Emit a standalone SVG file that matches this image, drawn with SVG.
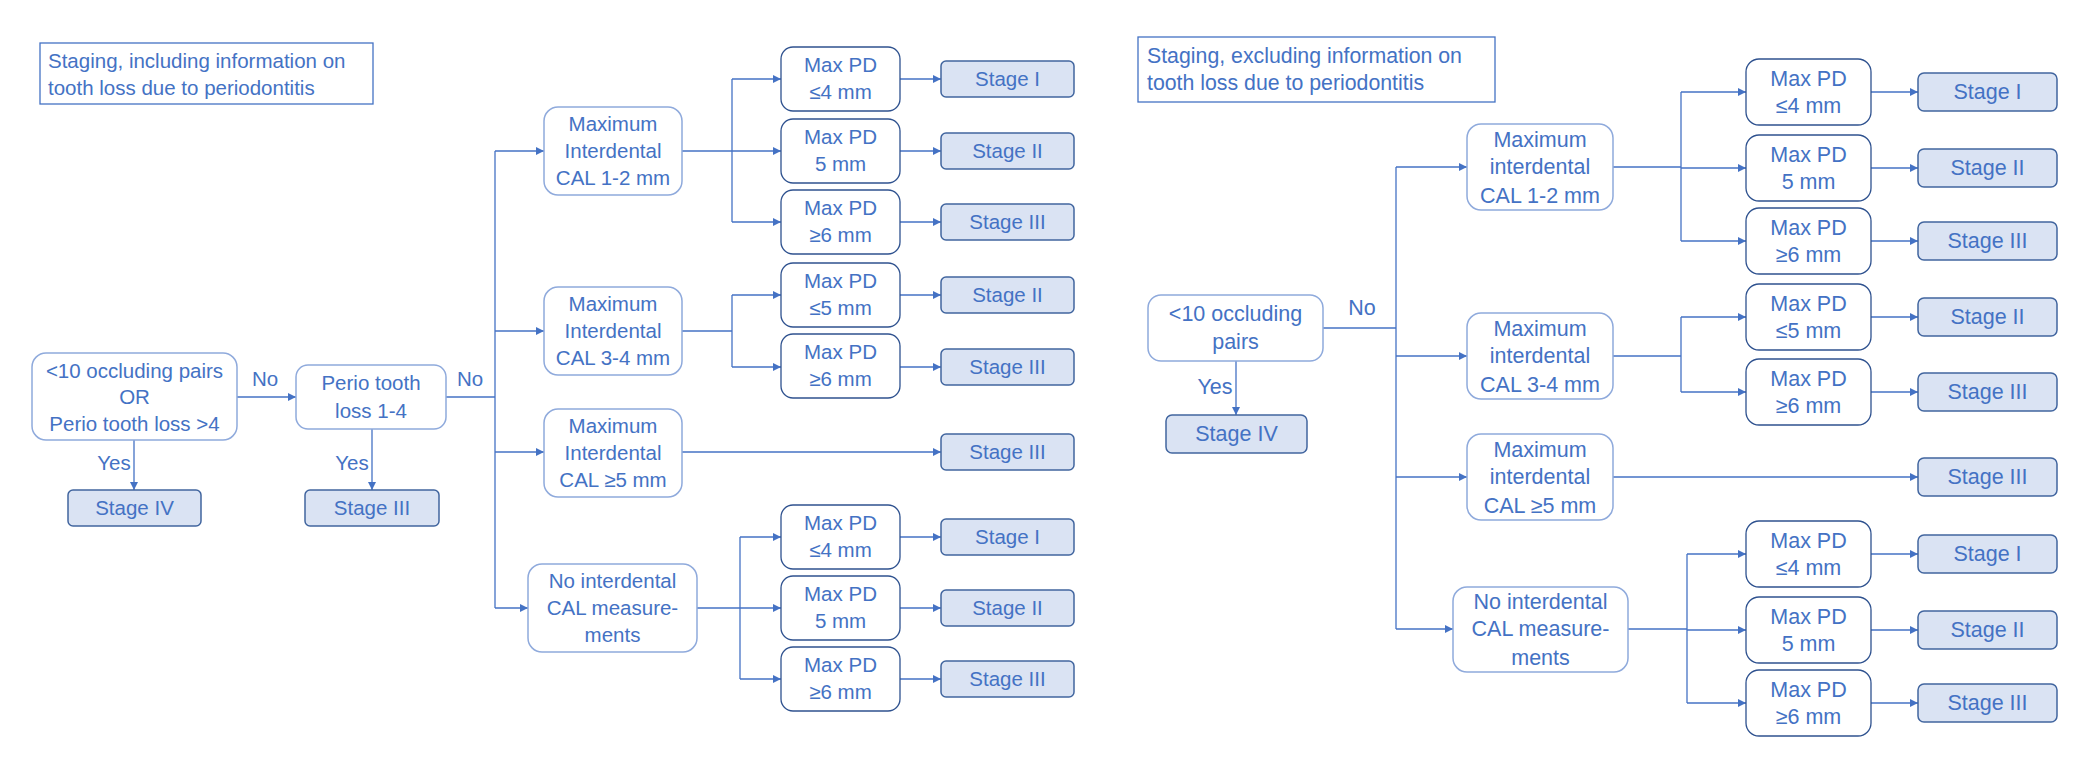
<svg xmlns="http://www.w3.org/2000/svg" width="2082" height="770" viewBox="0 0 2082 770">
<defs>
<marker id="ah" markerUnits="userSpaceOnUse" markerWidth="9" markerHeight="8" refX="8" refY="4" orient="auto">
<path d="M0,0 L8,4 L0,8 Z" fill="#4472C4"/>
</marker>
<style>
text{font-family:"Liberation Sans",Arial,sans-serif;fill:#4472C4;}
.l{font-size:20.5px;text-anchor:middle;}
.r{font-size:21.5px;text-anchor:middle;}
.tl{font-size:20.5px;}
.tr{font-size:21.3px;}
.title{fill:#fff;stroke:#4472C4;stroke-width:1.3;}
.q{fill:#fff;stroke:#8FAADC;stroke-width:1.5;}
.pd{fill:#fff;stroke:#2F528F;stroke-width:1.3;}
.st{fill:#DAE3F3;stroke:#41659F;stroke-width:1.5;}
.c{fill:none;stroke:#4472C4;stroke-width:1.3;}
.a{fill:none;stroke:#4472C4;stroke-width:1.3;marker-end:url(#ah);}
</style>
</defs>
<rect width="2082" height="770" fill="#fff"/>

<!-- LEFT -->
<g id="title-left"><rect class="title" x="40" y="43" width="333" height="61"/>
<text class="tl" x="48" y="68">Staging, including information on</text>
<text class="tl" x="48" y="95">tooth loss due to periodontitis</text></g>

<g id="connectors-left">
<line class="a" x1="237" y1="397" x2="296" y2="397"/>
<line class="a" x1="134" y1="440" x2="134" y2="490"/>
<line class="a" x1="372" y1="429" x2="372" y2="490"/>
<polyline class="c" points="446,397 495,397"/>
<line class="c" x1="495" y1="151" x2="495" y2="608"/>
<line class="a" x1="495" y1="151" x2="544" y2="151"/>
<line class="a" x1="495" y1="331" x2="544" y2="331"/>
<line class="a" x1="495" y1="452" x2="544" y2="452"/>
<line class="a" x1="495" y1="608" x2="528" y2="608"/>
<line class="c" x1="682" y1="151" x2="732" y2="151"/>
<line class="c" x1="732" y1="79" x2="732" y2="222"/>
<line class="a" x1="732" y1="79" x2="781" y2="79"/>
<line class="a" x1="732" y1="151" x2="781" y2="151"/>
<line class="a" x1="732" y1="222" x2="781" y2="222"/>
<line class="c" x1="682" y1="331" x2="732" y2="331"/>
<line class="c" x1="732" y1="295" x2="732" y2="367"/>
<line class="a" x1="732" y1="295" x2="781" y2="295"/>
<line class="a" x1="732" y1="367" x2="781" y2="367"/>
<line class="a" x1="682" y1="452" x2="941" y2="452"/>
<line class="c" x1="697" y1="608" x2="740" y2="608"/>
<line class="c" x1="740" y1="537" x2="740" y2="679"/>
<line class="a" x1="740" y1="537" x2="781" y2="537"/>
<line class="a" x1="740" y1="608" x2="781" y2="608"/>
<line class="a" x1="740" y1="679" x2="781" y2="679"/>
<line class="a" x1="900" y1="79" x2="941" y2="79"/>
<line class="a" x1="900" y1="151" x2="941" y2="151"/>
<line class="a" x1="900" y1="222" x2="941" y2="222"/>
<line class="a" x1="900" y1="295" x2="941" y2="295"/>
<line class="a" x1="900" y1="367" x2="941" y2="367"/>
<line class="a" x1="900" y1="537" x2="941" y2="537"/>
<line class="a" x1="900" y1="608" x2="941" y2="608"/>
<line class="a" x1="900" y1="679" x2="941" y2="679"/>
<text class="l" x="265" y="386">No</text>
<text class="l" x="470" y="386">No</text>
<text class="l" x="114" y="470">Yes</text>
<text class="l" x="352" y="470">Yes</text>
</g>

<g id="L-start"><rect class="q" x="32" y="353" width="205" height="87" rx="14"/>
<text class="l" x="134.5" y="378">&lt;10 occluding pairs</text>
<text class="l" x="134.5" y="404">OR</text>
<text class="l" x="134.5" y="431">Perio tooth loss &gt;4</text></g>
<g id="L-perio"><rect class="q" x="296" y="365" width="150" height="64" rx="12"/>
<text class="l" x="371" y="390">Perio tooth</text>
<text class="l" x="371" y="418">loss 1-4</text></g>
<g id="L-stage4"><rect class="st" x="68" y="490" width="133" height="36" rx="5"/><text class="l" x="134.5" y="515">Stage IV</text></g>
<g id="L-stage3a"><rect class="st" x="305" y="490" width="134" height="36" rx="5"/><text class="l" x="372" y="515">Stage III</text></g>

<g id="L-cal12"><rect class="q" x="544" y="107" width="138" height="88" rx="14"/>
<text class="l" x="613" y="131">Maximum</text><text class="l" x="613" y="158">Interdental</text><text class="l" x="613" y="185">CAL 1-2 mm</text></g>
<g id="L-cal34"><rect class="q" x="544" y="287" width="138" height="88" rx="14"/>
<text class="l" x="613" y="311">Maximum</text><text class="l" x="613" y="338">Interdental</text><text class="l" x="613" y="365">CAL 3-4 mm</text></g>
<g id="L-cal5"><rect class="q" x="544" y="409" width="138" height="88" rx="14"/>
<text class="l" x="613" y="433">Maximum</text><text class="l" x="613" y="460">Interdental</text><text class="l" x="613" y="487">CAL ≥5 mm</text></g>
<g id="L-nocal"><rect class="q" x="528" y="564" width="169" height="88" rx="14"/>
<text class="l" x="612.5" y="588">No interdental</text><text class="l" x="612.5" y="615">CAL measure-</text><text class="l" x="612.5" y="642">ments</text></g>

<g id="L-pd1"><rect class="pd" x="781" y="47" width="119" height="64" rx="12"/><text class="l" x="840.5" y="72">Max PD</text><text class="l" x="840.5" y="99">≤4 mm</text></g>
<g id="L-pd2"><rect class="pd" x="781" y="119" width="119" height="64" rx="12"/><text class="l" x="840.5" y="144">Max PD</text><text class="l" x="840.5" y="171">5 mm</text></g>
<g id="L-pd3"><rect class="pd" x="781" y="190" width="119" height="64" rx="12"/><text class="l" x="840.5" y="215">Max PD</text><text class="l" x="840.5" y="242">≥6 mm</text></g>
<g id="L-pd4"><rect class="pd" x="781" y="263" width="119" height="64" rx="12"/><text class="l" x="840.5" y="288">Max PD</text><text class="l" x="840.5" y="315">≤5 mm</text></g>
<g id="L-pd5"><rect class="pd" x="781" y="334" width="119" height="64" rx="12"/><text class="l" x="840.5" y="359">Max PD</text><text class="l" x="840.5" y="386">≥6 mm</text></g>
<g id="L-pd6"><rect class="pd" x="781" y="505" width="119" height="64" rx="12"/><text class="l" x="840.5" y="530">Max PD</text><text class="l" x="840.5" y="557">≤4 mm</text></g>
<g id="L-pd7"><rect class="pd" x="781" y="576" width="119" height="64" rx="12"/><text class="l" x="840.5" y="601">Max PD</text><text class="l" x="840.5" y="628">5 mm</text></g>
<g id="L-pd8"><rect class="pd" x="781" y="647" width="119" height="64" rx="12"/><text class="l" x="840.5" y="672">Max PD</text><text class="l" x="840.5" y="699">≥6 mm</text></g>

<g id="L-s1"><rect class="st" x="941" y="61" width="133" height="36" rx="5"/><text class="l" x="1007.5" y="86">Stage I</text></g>
<g id="L-s2"><rect class="st" x="941" y="133" width="133" height="36" rx="5"/><text class="l" x="1007.5" y="158">Stage II</text></g>
<g id="L-s3"><rect class="st" x="941" y="204" width="133" height="36" rx="5"/><text class="l" x="1007.5" y="229">Stage III</text></g>
<g id="L-s4"><rect class="st" x="941" y="277" width="133" height="36" rx="5"/><text class="l" x="1007.5" y="302">Stage II</text></g>
<g id="L-s5"><rect class="st" x="941" y="349" width="133" height="36" rx="5"/><text class="l" x="1007.5" y="374">Stage III</text></g>
<g id="L-s6"><rect class="st" x="941" y="434" width="133" height="36" rx="5"/><text class="l" x="1007.5" y="459">Stage III</text></g>
<g id="L-s7"><rect class="st" x="941" y="519" width="133" height="36" rx="5"/><text class="l" x="1007.5" y="544">Stage I</text></g>
<g id="L-s8"><rect class="st" x="941" y="590" width="133" height="36" rx="5"/><text class="l" x="1007.5" y="615">Stage II</text></g>
<g id="L-s9"><rect class="st" x="941" y="661" width="133" height="36" rx="5"/><text class="l" x="1007.5" y="686">Stage III</text></g>

<!-- RIGHT -->
<g id="title-right"><rect class="title" x="1138" y="37" width="357" height="65"/>
<text class="tr" x="1147" y="63">Staging, excluding information on</text>
<text class="tr" x="1147" y="90">tooth loss due to periodontitis</text></g>

<g id="connectors-right">
<line class="c" x1="1323" y1="328" x2="1396" y2="328"/>
<line class="a" x1="1236" y1="361" x2="1236" y2="415"/>
<line class="c" x1="1396" y1="167" x2="1396" y2="629"/>
<line class="a" x1="1396" y1="167" x2="1467" y2="167"/>
<line class="a" x1="1396" y1="356" x2="1467" y2="356"/>
<line class="a" x1="1396" y1="477" x2="1467" y2="477"/>
<line class="a" x1="1396" y1="629" x2="1453" y2="629"/>
<line class="c" x1="1613" y1="167" x2="1681" y2="167"/>
<line class="c" x1="1681" y1="92" x2="1681" y2="241"/>
<line class="a" x1="1681" y1="92" x2="1746" y2="92"/>
<line class="a" x1="1681" y1="168" x2="1746" y2="168"/>
<line class="a" x1="1681" y1="241" x2="1746" y2="241"/>
<line class="c" x1="1613" y1="356" x2="1681" y2="356"/>
<line class="c" x1="1681" y1="317" x2="1681" y2="392"/>
<line class="a" x1="1681" y1="317" x2="1746" y2="317"/>
<line class="a" x1="1681" y1="392" x2="1746" y2="392"/>
<line class="a" x1="1613" y1="477" x2="1918" y2="477"/>
<line class="c" x1="1628" y1="629" x2="1687" y2="629"/>
<line class="c" x1="1687" y1="554" x2="1687" y2="703"/>
<line class="a" x1="1687" y1="554" x2="1746" y2="554"/>
<line class="a" x1="1687" y1="630" x2="1746" y2="630"/>
<line class="a" x1="1687" y1="703" x2="1746" y2="703"/>
<line class="a" x1="1871" y1="92" x2="1918" y2="92"/>
<line class="a" x1="1871" y1="168" x2="1918" y2="168"/>
<line class="a" x1="1871" y1="241" x2="1918" y2="241"/>
<line class="a" x1="1871" y1="317" x2="1918" y2="317"/>
<line class="a" x1="1871" y1="392" x2="1918" y2="392"/>
<line class="a" x1="1871" y1="554" x2="1918" y2="554"/>
<line class="a" x1="1871" y1="630" x2="1918" y2="630"/>
<line class="a" x1="1871" y1="703" x2="1918" y2="703"/>
<text class="r" x="1362" y="315">No</text>
<text class="r" x="1215" y="394">Yes</text>
</g>

<g id="R-start"><rect class="q" x="1148" y="295" width="175" height="66" rx="13"/>
<text class="r" x="1235.5" y="321">&lt;10 occluding</text><text class="r" x="1235.5" y="349">pairs</text></g>
<g id="R-stage4"><rect class="st" x="1166" y="415" width="141" height="38" rx="6"/><text class="r" x="1236.5" y="441">Stage IV</text></g>

<g id="R-cal12"><rect class="q" x="1467" y="124" width="146" height="86" rx="14"/>
<text class="r" x="1540" y="147">Maximum</text><text class="r" x="1540" y="174">interdental</text><text class="r" x="1540" y="203">CAL 1-2 mm</text></g>
<g id="R-cal34"><rect class="q" x="1467" y="313" width="146" height="86" rx="14"/>
<text class="r" x="1540" y="336">Maximum</text><text class="r" x="1540" y="363">interdental</text><text class="r" x="1540" y="392">CAL 3-4 mm</text></g>
<g id="R-cal5"><rect class="q" x="1467" y="434" width="146" height="86" rx="14"/>
<text class="r" x="1540" y="457">Maximum</text><text class="r" x="1540" y="484">interdental</text><text class="r" x="1540" y="513">CAL ≥5 mm</text></g>
<g id="R-nocal"><rect class="q" x="1453" y="587" width="175" height="85" rx="14"/>
<text class="r" x="1540.5" y="609">No interdental</text><text class="r" x="1540.5" y="636">CAL measure-</text><text class="r" x="1540.5" y="665">ments</text></g>

<g id="R-pd1"><rect class="pd" x="1746" y="59" width="125" height="66" rx="13"/><text class="r" x="1808.5" y="86">Max PD</text><text class="r" x="1808.5" y="113">≤4 mm</text></g>
<g id="R-pd2"><rect class="pd" x="1746" y="135" width="125" height="66" rx="13"/><text class="r" x="1808.5" y="162">Max PD</text><text class="r" x="1808.5" y="189">5 mm</text></g>
<g id="R-pd3"><rect class="pd" x="1746" y="208" width="125" height="66" rx="13"/><text class="r" x="1808.5" y="235">Max PD</text><text class="r" x="1808.5" y="262">≥6 mm</text></g>
<g id="R-pd4"><rect class="pd" x="1746" y="284" width="125" height="66" rx="13"/><text class="r" x="1808.5" y="311">Max PD</text><text class="r" x="1808.5" y="338">≤5 mm</text></g>
<g id="R-pd5"><rect class="pd" x="1746" y="359" width="125" height="66" rx="13"/><text class="r" x="1808.5" y="386">Max PD</text><text class="r" x="1808.5" y="413">≥6 mm</text></g>
<g id="R-pd6"><rect class="pd" x="1746" y="521" width="125" height="66" rx="13"/><text class="r" x="1808.5" y="548">Max PD</text><text class="r" x="1808.5" y="575">≤4 mm</text></g>
<g id="R-pd7"><rect class="pd" x="1746" y="597" width="125" height="66" rx="13"/><text class="r" x="1808.5" y="624">Max PD</text><text class="r" x="1808.5" y="651">5 mm</text></g>
<g id="R-pd8"><rect class="pd" x="1746" y="670" width="125" height="66" rx="13"/><text class="r" x="1808.5" y="697">Max PD</text><text class="r" x="1808.5" y="724">≥6 mm</text></g>

<g id="R-s1"><rect class="st" x="1918" y="73" width="139" height="38" rx="6"/><text class="r" x="1987.5" y="99">Stage I</text></g>
<g id="R-s2"><rect class="st" x="1918" y="149" width="139" height="38" rx="6"/><text class="r" x="1987.5" y="175">Stage II</text></g>
<g id="R-s3"><rect class="st" x="1918" y="222" width="139" height="38" rx="6"/><text class="r" x="1987.5" y="248">Stage III</text></g>
<g id="R-s4"><rect class="st" x="1918" y="298" width="139" height="38" rx="6"/><text class="r" x="1987.5" y="324">Stage II</text></g>
<g id="R-s5"><rect class="st" x="1918" y="373" width="139" height="38" rx="6"/><text class="r" x="1987.5" y="399">Stage III</text></g>
<g id="R-s6"><rect class="st" x="1918" y="458" width="139" height="38" rx="6"/><text class="r" x="1987.5" y="484">Stage III</text></g>
<g id="R-s7"><rect class="st" x="1918" y="535" width="139" height="38" rx="6"/><text class="r" x="1987.5" y="561">Stage I</text></g>
<g id="R-s8"><rect class="st" x="1918" y="611" width="139" height="38" rx="6"/><text class="r" x="1987.5" y="637">Stage II</text></g>
<g id="R-s9"><rect class="st" x="1918" y="684" width="139" height="38" rx="6"/><text class="r" x="1987.5" y="710">Stage III</text></g>
</svg>
